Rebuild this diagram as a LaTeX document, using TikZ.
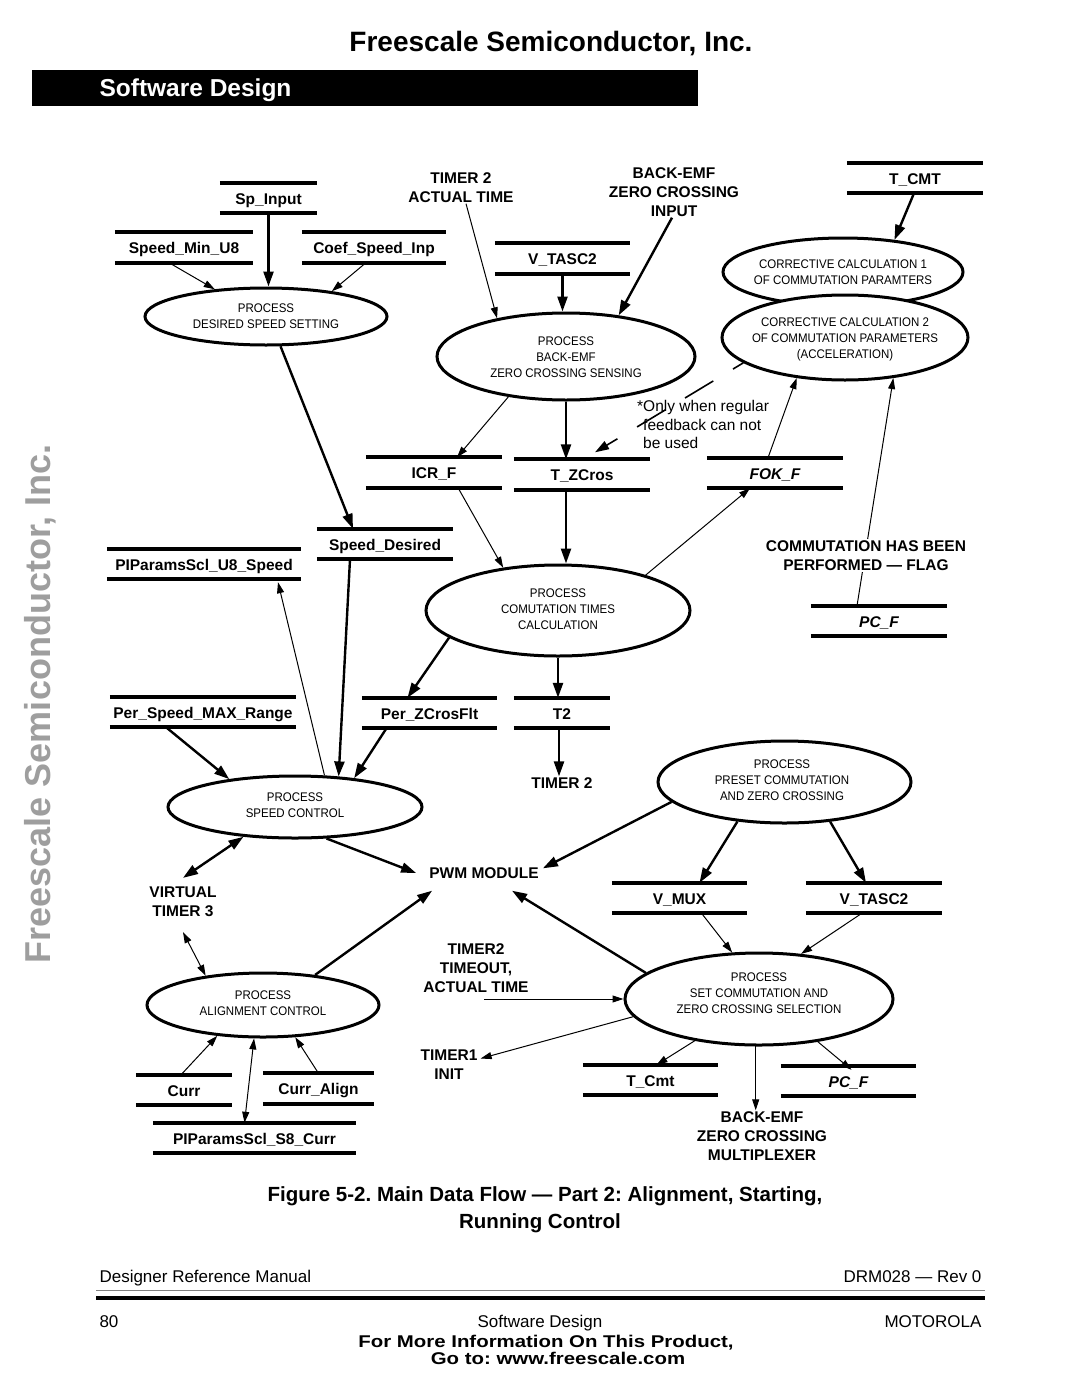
\documentclass[tikz,border=0pt]{standalone}
\usepackage{fontspec}
\setmainfont{Liberation Sans}
\newfontfamily\procfamily[FakeStretch=0.92]{Liberation Sans}
\newfontfamily\widefamily[FakeStretch=1.2]{Liberation Sans}
\usetikzlibrary{shapes.geometric,arrows.meta}
\frenchspacing
\newcommand\mylbl{\fontsize{15.5}{19}\selectfont\bfseries}
\newcommand\myproc{\procfamily\fontsize{12.5}{16}\selectfont}
\tikzset{
 store/.style={minimum height=30pt, inner sep=0pt, text height=14pt, text depth=2pt, font=\mylbl},
 istore/.style={store, font={\mylbl\itshape}},
 barline/.style={line width=4pt},
 proc/.style={ellipse, draw, line width=3pt, fill=white, inner sep=0pt},
 ptext/.style={align=center, font=\myproc, inner sep=0pt},
 lbl/.style={align=center, font=\mylbl, inner sep=1pt},
 thk/.style={line width=2.4pt, -{Triangle[length=15pt,width=10pt]}},
 thn/.style={line width=1pt, -{Triangle[length=11pt,width=7pt]}},
 thkboth/.style={line width=2.4pt, {Triangle[length=15pt,width=10pt]}-{Triangle[length=15pt,width=10pt]}},
 thnboth/.style={line width=1pt, {Triangle[length=11pt,width=7pt]}-{Triangle[length=11pt,width=7pt]}},
 dasharr/.style={line width=1.6pt, dash pattern=on 33pt off 23pt, dash phase=21pt, -{Triangle[length=14pt,width=9pt]}},
}
\begin{document}
\begin{tikzpicture}[x=1pt,y=-1pt]
\useasboundingbox (0,0) rectangle (1080,1397);
\fill[white] (0,0) rectangle (1080,1397);

% header
\node[anchor=base, font=\fontsize{28}{30}\selectfont\bfseries] (hdr) at (551,52) {Freescale Semiconductor, Inc.};
\fill[black] (32,70) rectangle (698,106);
\node[anchor=base west, text=white, font=\fontsize{24.5}{26}\selectfont\bfseries] (sec) at (96,96) {Software Design};

% watermark
\node[rotate=90, text=black!38, font=\fontsize{36}{40}\selectfont\bfseries] (wm) at (40,704) {Freescale Semiconductor, Inc.};

% processes
\node[proc, minimum width=242pt, minimum height=57pt] (eds) at (266,316.5) {};
\node[proc, minimum width=258pt, minimum height=87pt] (ebemf) at (566,356.5) {};
\node[proc, minimum width=240pt, minimum height=68pt] (ecc1) at (843,272) {};
\node[proc, minimum width=246pt, minimum height=85pt] (ecc2) at (845,337.5) {};
\node[proc, minimum width=264pt, minimum height=91pt] (ect) at (558,610.5) {};
\node[proc, minimum width=254pt, minimum height=62pt] (esc) at (295,807) {};
\node[proc, minimum width=253pt, minimum height=82pt] (epc) at (784.5,782) {};
\node[proc, minimum width=232pt, minimum height=64pt] (eal) at (263,1005) {};
\node[proc, minimum width=268pt, minimum height=92pt] (esel) at (759,999) {};

\node[ptext] (teds) at (266,316) {PROCESS\\DESIRED SPEED SETTING};
\node[ptext] (tebemf) at (566,357) {PROCESS\\BACK-EMF\\ZERO CROSSING SENSING};
\node[ptext] (tecc1) at (843,272) {CORRECTIVE CALCULATION 1\\OF COMMUTATION PARAMTERS};
\node[ptext] (tecc2) at (845,339) {CORRECTIVE CALCULATION 2\\OF COMMUTATION PARAMETERS\\(ACCELERATION)};
\node[ptext] (tect) at (558,609.5) {PROCESS\\COMUTATION TIMES\\CALCULATION};
\node[ptext] (tesc) at (295,805) {PROCESS\\SPEED CONTROL};
\node[ptext] (tepc) at (782,780.5) {PROCESS\\PRESET COMMUTATION\\AND ZERO CROSSING};
\node[ptext] (teal) at (263,1003) {PROCESS\\ALIGNMENT CONTROL};
\node[ptext] (tesel) at (759,993) {PROCESS\\SET COMMUTATION AND\\ZERO CROSSING SELECTION};

% data stores
\node[store, minimum width=97pt] (spin) at (268.5,198) {Sp\_Input};
\node[store, minimum width=138pt] (smin) at (184,247.5) {Speed\_Min\_U8};
\node[store, minimum width=144pt] (coef) at (374,247.5) {Coef\_Speed\_Inp};
\node[store, minimum width=135pt] (vtasc2a) at (562.5,258.5) {V\_TASC2};
\node[store, minimum width=136pt] (tcmt) at (915,178) {T\_CMT};
\node[store, minimum width=136pt] (icrf) at (434,472.5) {ICR\_F};
\node[store, minimum width=136pt] (tzcros) at (582,474.5) {T\_ZCros};
\node[istore, minimum width=136pt] (fokf) at (775,473) {FOK\_F};
\node[store, minimum width=136pt] (spdes) at (385,544) {Speed\_Desired};
\node[store, minimum width=194pt] (piu8) at (204,564) {PIParamsScl\_U8\_Speed};
\node[istore, minimum width=136pt] (pcf1) at (879,621) {PC\_F};
\node[store, minimum width=186pt] (permax) at (203,712) {Per\_Speed\_MAX\_Range};
\node[store, minimum width=135pt] (perzc) at (429.5,713) {Per\_ZCrosFlt};
\node[store, minimum width=96pt] (t2) at (562,713) {T2};
\node[store, minimum width=135pt] (vmux) at (679.5,898) {V\_MUX};
\node[store, minimum width=136pt] (vtasc2b) at (874,898) {V\_TASC2};
\node[store, minimum width=96pt] (curr) at (184,1090) {Curr};
\node[store, minimum width=111pt] (curral) at (318.5,1088.5) {Curr\_Align};
\node[store, minimum width=203pt] (pis8) at (254.5,1138) {PIParamsScl\_S8\_Curr};
\node[store, minimum width=135pt] (tcmt2) at (650.5,1080) {T\_Cmt};
\node[istore, minimum width=135pt] (pcf2) at (848.5,1081) {PC\_F};
\foreach \n in {spin,smin,coef,vtasc2a,tcmt,icrf,tzcros,fokf,spdes,piu8,pcf1,permax,perzc,t2,vmux,vtasc2b,curr,curral,pis8,tcmt2,pcf2}
  \draw[barline] (\n.north west) -- (\n.north east) (\n.south west) -- (\n.south east);

% free labels
\node[lbl] (tim2a) at (461,187.5) {TIMER 2\\ACTUAL TIME};
\node[lbl] (bemfin) at (674,192) {BACK-EMF\\ZERO CROSSING\\INPUT};
\node[anchor=west, align=left, inner sep=0pt, font=\fontsize{15.5}{18.5}\selectfont] (note) at (643,424.5) {\llap{*}Only when regular\\feedback can not\\be used};
\node[lbl] (tim2b) at (562,783) {TIMER 2};
\node[lbl] (pwm) at (484,873) {PWM MODULE};
\node[lbl] (vt3) at (183,902) {VIRTUAL\\TIMER 3};
\node[lbl] (tim2c) at (476,968) {TIMER2\\TIMEOUT,\\ACTUAL TIME};
\node[lbl] (tim1) at (449,1064.5) {TIMER1\\INIT};
\node[lbl] (bemux) at (762,1136) {BACK-EMF\\ZERO CROSSING\\MULTIPLEXER};

% connectors
\draw[thk] (spin.south) -- (spin.south |- eds.north);
\draw[thn] ([xshift=-15pt]smin.south) -- (eds.152);
\draw[thn] ([xshift=-8pt]coef.south) -- (eds.21);
\draw[thk] (eds.296) -- ([xshift=-32pt]spdes.north);
\draw[thn] ([xshift=5pt]tim2a.south) -- (ebemf.151);
\draw[thk] (vtasc2a.south) -- (vtasc2a.south |- ebemf.north);
\draw[thk] ([xshift=-2pt]bemfin.south) -- (ebemf.38);
\draw[thn] (ebemf.215) -- ([xshift=23pt]icrf.north);
\draw[thk] (ebemf.south) -- (ebemf.south |- tzcros.north);
\draw[dasharr] (ecc2.194) -- ([xshift=13pt,yshift=7pt]tzcros.north);
\draw[thk] ([xshift=-1pt]tcmt.south) -- (ecc1.32);
\draw[thn] ([xshift=-7pt]fokf.north) -- (ecc2.220);
\draw[thn] ([xshift=-22pt]pcf1.north) -- (ecc2.320);
\node[lbl, fill=white, inner sep=2pt] (cflag) at (866,555.5) {COMMUTATION HAS BEEN\\PERFORMED — FLAG};
\draw[thn] ([xshift=24pt]icrf.south) -- (ect.142);
\draw[thk] ([xshift=-16pt]tzcros.south) -- ([xshift=-16pt]tzcros.south |- ect.north);
\draw[thn] (ect.22) -- ([xshift=-25pt]fokf.south);
\draw[thk] (ect.194) -- ([xshift=-22pt]perzc.north);
\draw[thk] (ect.south) -- (ect.south |- t2.north);
\draw[thk] ([xshift=-3pt]t2.south) -- ([xshift=-3pt]t2.south |- tim2b.north);
\draw[thk] ([xshift=-43pt]perzc.south) -- (esc.26);
\draw[thk] ([xshift=-35pt]spdes.south) -- (esc.35);
\draw[thn] (esc.47) -- ([xshift=74pt,yshift=-3pt]piu8.south);
\draw[thk] ([xshift=-37pt]permax.south) -- (esc.157);
\draw[thkboth] (esc.210) -- ([yshift=8pt]vt3.north);
\draw[thk] (esc.315) -- ([xshift=-12pt]pwm.west);
\draw[thnboth] ([yshift=-14pt]vt3.south) -- (eal.153);
\draw[thk] (eal.30) -- ([xshift=4pt,yshift=-11pt]pwm.south west);
\draw[thn] ([xshift=-3pt]curr.north) -- (eal.214);
\draw[thn] (curral.north) -- (eal.315);
\draw[thnboth] ([xshift=-10pt]pis8.north) -- (eal.255);
\draw[thk] (epc.190) -- ([xshift=3pt,yshift=-2pt]pwm.north east);
\draw[thk] (epc.220) -- ([xshift=20pt]vmux.north);
\draw[thk] (epc.319) -- ([xshift=-8pt]vtasc2b.north);
\draw[thn] ([xshift=22pt]vmux.south) -- (esel.120);
\draw[thn] ([xshift=-12pt]vtasc2b.south) -- (esel.47);
\draw[thk] (esel.167) -- ([xshift=28pt,yshift=-11pt]pwm.south);
\draw[thn] ([xshift=8pt]tim2c.south |- esel.west) -- (esel.west);
\draw[thn] (esel.188) -- ([xshift=2pt,yshift=6pt]tim1.east);
\draw[thn] (esel.213) -- ([xshift=6pt]tcmt2.north);
\draw[thn] (esel.266) -- (esel.266 |- bemux.north);
\draw[thn] (esel.324) -- ([xshift=3pt,yshift=-4pt]pcf2.north);

% caption
\node[anchor=base, font=\fontsize{20.5}{24}\selectfont\bfseries] (cap1) at (545,1201) {Figure 5-2. Main Data Flow — Part 2: Alignment, Starting,};
\node[anchor=base, font=\fontsize{20.5}{24}\selectfont\bfseries] (cap2) at (540,1228) {Running Control};

% footer
\node[anchor=base west, font=\fontsize{17}{20}\selectfont] (f1) at (96,1282) {Designer Reference Manual};
\node[anchor=base east, font=\fontsize{17}{20}\selectfont] (f2) at (985,1282) {DRM028 — Rev 0};
\draw[black!50, line width=1pt] (96,1290) -- (985,1290);
\draw[line width=4pt] (96,1298) -- (985,1298);
\node[anchor=base west, font=\fontsize{17}{20}\selectfont] (f3) at (96,1327) {80};
\node[anchor=base, font=\fontsize{17}{20}\selectfont] (f4) at (540,1327) {Software Design};
\node[anchor=base east, font=\fontsize{17}{20}\selectfont] (f5) at (985,1327) {MOTOROLA};
\node[anchor=base, font=\widefamily\bfseries\fontsize{17}{18}\selectfont] (f6) at (546,1347) {For More Information On This Product,};
\node[anchor=base, font=\widefamily\bfseries\fontsize{17}{18}\selectfont] (f7) at (558,1364) {Go to: www.freescale.com};
\end{tikzpicture}
\end{document}
